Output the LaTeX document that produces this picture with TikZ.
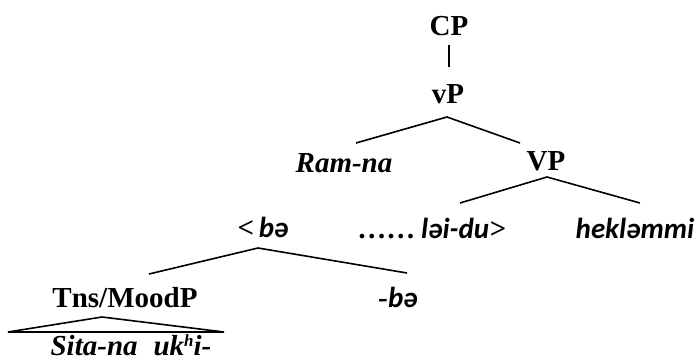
\documentclass[tikz,border=0pt]{standalone}
\usepackage{fontspec}
\setmainfont{Liberation Serif}
\newfontfamily\ipafont{Carlito}
\begin{document}
\begin{tikzpicture}[x=1pt,y=-1pt,line width=1.6pt,
  lbl/.style={inner sep=0pt,anchor=base,font=\fontsize{29}{34}\selectfont\bfseries},
  itl/.style={lbl,font=\fontsize{29}{34}\selectfont\bfseries\itshape}]
\useasboundingbox (0,0) rectangle (699,356);
% labels
\node[lbl] (cp) at (449,35) {CP};
\node[lbl] (vp) at (448,103) {vP};
\node[itl] (ram) at (344,172) {Ram-na};
\node[lbl] (VP) at (546,170) {VP};
\node[itl] (ba) at (263,237) {<\,{\ipafont bə}};
\node[itl] (laidu) at (432,238) {……\,{\ipafont ləi-du}>};
\node[itl] (hek) at (635,238) {{\ipafont hekləmmi}};
\node[lbl] (tm) at (125,307) {Tns/MoodP};
\node[itl] (mba) at (398,307) {-{\ipafont bə}};
\node[itl] (sita) at (131,355) {Sita-na\hspace{0.55em}uk\raisebox{0.3em}{\fontsize{17}{20}\selectfont h}i-};
% tree points
\coordinate (vpa) at (447,117);
\coordinate (vpl) at (356,143);
\coordinate (vpr) at (520,143);
\coordinate (VPa) at (547,177);
\coordinate (VPl) at (460,203);
\coordinate (VPr) at (640,203);
\coordinate (baa) at (258,248);
\coordinate (bal) at (149,274);
\coordinate (bar) at (407,273);
\coordinate (tra) at (102,317);
\coordinate (trl) at (8,332);
\coordinate (trr) at (224,332);
% connectors
\draw[shorten <=9pt,shorten >=16pt] (cp.south) -- (cp.south |- vp.north);
\draw (vpl) -- (vpa) -- (vpr);
\draw (VPl) -- (VPa) -- (VPr);
\draw (bal) -- (baa) -- (bar);
\draw (trl) -- (tra) -- (trr) -- cycle;
\end{tikzpicture}
\end{document}
